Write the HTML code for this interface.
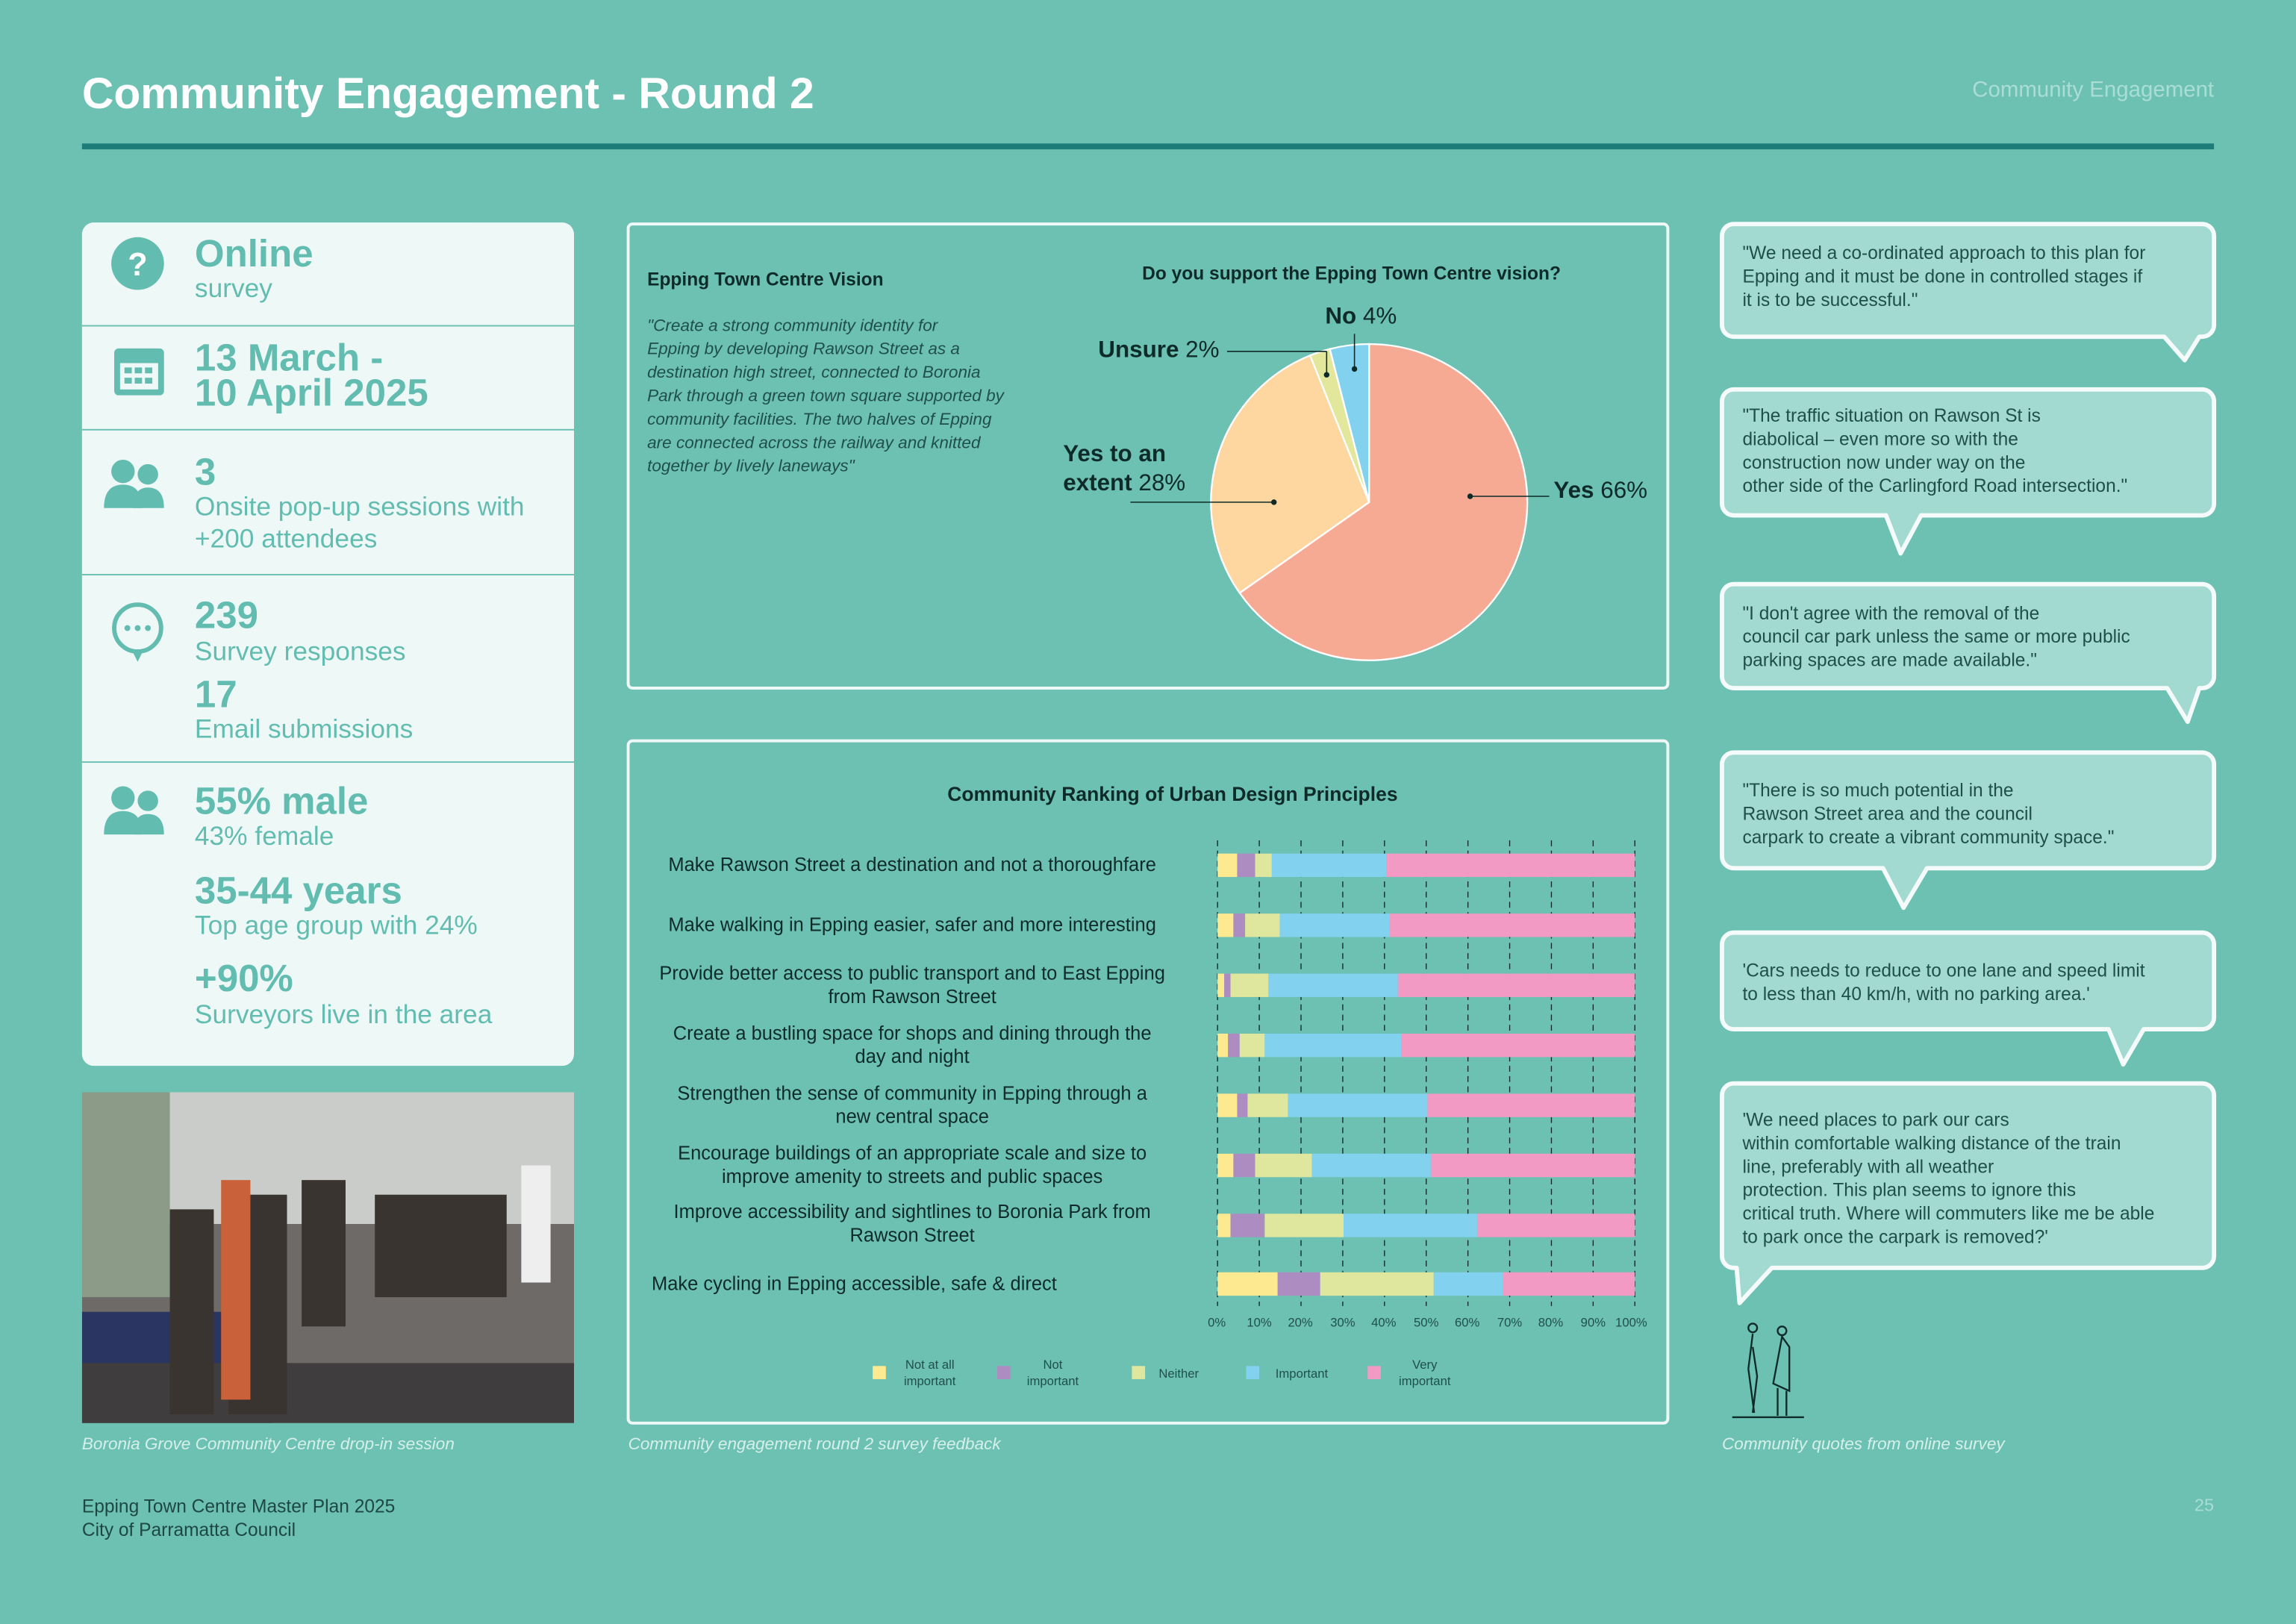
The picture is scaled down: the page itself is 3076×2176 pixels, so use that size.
<!DOCTYPE html>
<html><head><meta charset="utf-8"><style>
html,body{margin:0;padding:0;width:3076px;height:2175px;overflow:hidden;background:#6dc1b3;}
#s{position:absolute;left:0;top:0;width:1568px;height:1109px;transform:scale(1.96173);transform-origin:0 0;font-family:"Liberation Sans",sans-serif;}
.a{position:absolute;}
.card{background:#eef8f7;border-radius:8px;}
.big{color:#62bdb0;font-weight:bold;font-size:26px;line-height:24px;}
.sub{color:#62bdb0;font-size:18px;line-height:22px;}
.hr{position:absolute;left:56px;width:336px;height:1px;background:#6dc1b3;}
.box{border:2px solid #eef8f7;border-radius:4px;}
.cap{color:#d6efea;font-style:italic;font-size:11.5px;}
.q{color:#1f4f4b;font-size:12.5px;line-height:16px;white-space:nowrap;}
.lab{color:#0f2b29;font-size:13px;line-height:16px;text-align:center;white-space:nowrap;}
</style></head><body><div id="s">
<div class="a" style="left:56px;top:48px;color:#fff;font-weight:bold;font-size:30px;">Community Engagement - Round 2</div>
<div class="a" style="right:56px;top:53px;color:#a9ddd5;font-size:15px;">Community Engagement</div>
<div class="a" style="left:56px;top:98px;width:1456px;height:4px;background:#1d7c78;"></div>

<div class="a card" style="left:56px;top:152px;width:336px;height:576px;"></div>
<div class="hr" style="top:222px"></div><div class="hr" style="top:293px"></div><div class="hr" style="top:392px"></div><div class="hr" style="top:520px"></div>
<svg class="a" style="left:56px;top:152px" width="336" height="576" viewBox="0 0 336 576">
<circle cx="38" cy="28" r="18" fill="#62bdb0"/><text x="38" y="36" font-size="22" font-weight="bold" fill="#fff" text-anchor="middle" font-family="Liberation Sans">?</text>
<rect x="22" y="86" width="34" height="32" rx="3" fill="#62bdb0"/><rect x="26" y="96" width="26" height="18" fill="#eef8f7"/>
<g fill="#62bdb0"><rect x="29" y="99" width="5" height="4"/><rect x="36" y="99" width="5" height="4"/><rect x="43" y="99" width="5" height="4"/><rect x="29" y="106" width="5" height="4"/><rect x="36" y="106" width="5" height="4"/><rect x="43" y="106" width="5" height="4"/></g>
<g fill="#62bdb0"><circle cx="28" cy="170" r="8"/><circle cx="45" cy="172" r="7"/><path d="M15 195 q0-16 13-16 q13 0 13 16z"/><path d="M35 195 q0-14 10-14 q11 0 11 14z"/>
<circle cx="28" cy="393" r="8"/><circle cx="45" cy="395" r="7"/><path d="M15 418 q0-16 13-16 q13 0 13 16z"/><path d="M35 418 q0-14 10-14 q11 0 11 14z"/></g>
<circle cx="38" cy="277" r="16" fill="none" stroke="#62bdb0" stroke-width="3"/><path d="M34 292 l4 8 l4-8" fill="#62bdb0"/>
<circle cx="31" cy="277" r="2" fill="#62bdb0"/><circle cx="38" cy="277" r="2" fill="#62bdb0"/><circle cx="45" cy="277" r="2" fill="#62bdb0"/>
</svg>
<div class="a big" style="left:133px;top:161px">Online</div><div class="a sub" style="left:133px;top:186px">survey</div>
<div class="a big" style="left:133px;top:232px">13 March -<br>10 April 2025</div>
<div class="a big" style="left:133px;top:310px">3</div><div class="a sub" style="left:133px;top:335px">Onsite pop-up sessions with<br>+200 attendees</div>
<div class="a big" style="left:133px;top:408px">239</div><div class="a sub" style="left:133px;top:434px">Survey responses</div>
<div class="a big" style="left:133px;top:462px">17</div><div class="a sub" style="left:133px;top:487px">Email submissions</div>
<div class="a big" style="left:133px;top:535px">55% male</div><div class="a sub" style="left:133px;top:560px">43% female</div>
<div class="a big" style="left:133px;top:596px">35-44 years</div><div class="a sub" style="left:133px;top:621px">Top age group with 24%</div>
<div class="a big" style="left:133px;top:656px">+90%</div><div class="a sub" style="left:133px;top:682px">Surveyors live in the area</div>

<svg class="a" style="left:56px;top:746px" width="336" height="226"><rect width="336" height="226" fill="#6e6a68"/><rect width="336" height="90" fill="#c9ccc9"/><rect y="0" width="60" height="140" fill="#8c9a88"/><rect x="0" y="150" width="130" height="76" fill="#2b3561"/><rect x="0" y="185" width="336" height="41" fill="#3f3d3d"/><g fill="#3a3431"><rect x="60" y="80" width="30" height="140"/><rect x="100" y="70" width="40" height="150"/><rect x="150" y="60" width="30" height="100"/><rect x="200" y="70" width="90" height="70"/></g><rect x="95" y="60" width="20" height="150" fill="#c9623a"/><rect x="300" y="50" width="20" height="80" fill="#eee"/></svg>
<div class="a cap" style="left:56px;top:981px">Boronia Grove Community Centre drop-in session</div>
<div class="a cap" style="left:429px;top:981px">Community engagement round 2  survey feedback</div>
<div class="a cap" style="left:1176px;top:981px">Community quotes from online survey</div>
<div class="a" style="left:56px;top:1021px;color:#1e4744;font-size:12.5px;line-height:16px">Epping Town Centre Master Plan 2025<br>City of Parramatta Council</div>
<div class="a" style="right:56px;top:1021px;color:#a9ddd5;font-size:12px">25</div>

<div class="a box" style="left:428px;top:152px;width:708px;height:315px"></div>
<div class="a" style="left:442px;top:184px;color:#0f2b29;font-weight:bold;font-size:12.5px">Epping Town Centre Vision</div>
<div class="a" style="left:442px;top:215px;color:#1f4f4b;font-style:italic;font-size:11.5px;line-height:16px;white-space:nowrap">"Create a strong community identity for<br>Epping by developing Rawson Street as a<br>destination high street, connected to Boronia<br>Park through a green town square supported by<br>community facilities.  The two halves of Epping<br>are connected across the railway and knitted<br>together by lively laneways"</div>
<div class="a" style="left:780px;top:180px;color:#0f2b29;font-weight:bold;font-size:12.5px">Do you support the Epping Town Centre vision?</div>
<svg class="a" style="left:0;top:0" width="1568" height="500">
<g stroke="#fff" stroke-width="1.2">
<path d="M935 343 L935 235 A108 108 0 1 1 846.6 405.0 Z" fill="#f7aa93"/>
<path d="M935 343 L846.6 405.0 A108 108 0 0 1 894.7 242.8 Z" fill="#fdd6a0"/>
<path d="M935 343 L894.7 242.8 A108 108 0 0 1 908.2 238.4 Z" fill="#e2e79b"/>
<path d="M935 343 L908.2 238.4 A108 108 0 0 1 935 235 Z" fill="#81d1ef"/>
</g>
<g stroke="#0f2b29" stroke-width="0.8" fill="#0f2b29">
<line x1="1004" y1="339" x2="1058" y2="339"/><circle cx="1004" cy="339" r="1.5"/>
<line x1="870" y1="343" x2="772" y2="343"/><circle cx="870" cy="343" r="1.5"/>
<line x1="838" y1="240" x2="906" y2="240"/><line x1="906" y1="240" x2="906" y2="256"/><circle cx="906" cy="256" r="1.5"/>
<line x1="925" y1="228" x2="925" y2="252"/><circle cx="925" cy="252" r="1.5"/>
</g></svg>
<div class="a" style="left:905px;top:208px;color:#0f2b29;font-size:16px"><b>No</b> 4%</div>
<div class="a" style="left:750px;top:231px;color:#0f2b29;font-size:16px"><b>Unsure</b> 2%</div>
<div class="a" style="left:726px;top:301px;color:#0f2b29;font-size:16px;line-height:20px"><b>Yes to an<br>extent</b> 28%</div>
<div class="a" style="left:1061px;top:327px;color:#0f2b29;font-size:16px"><b>Yes</b> 66%</div>

<div class="a box" style="left:428px;top:505px;width:708px;height:464px"></div>
<div class="a" style="left:647px;top:535px;color:#0f2b29;font-weight:bold;font-size:13.5px">Community Ranking of Urban Design Principles</div>
<div class="a lab" style="left:440px;top:583px;width:366px">Make Rawson Street a destination and not a thoroughfare</div>
<div class="a lab" style="left:440px;top:624px;width:366px">Make walking in Epping easier, safer and more interesting</div>
<div class="a lab" style="left:440px;top:657px;width:366px">Provide better access to public transport and to East Epping<br>from Rawson Street</div>
<div class="a lab" style="left:440px;top:698px;width:366px">Create a bustling space for shops and dining through the<br>day and night</div>
<div class="a lab" style="left:440px;top:739px;width:366px">Strengthen the sense of community in Epping through a<br>new central space</div>
<div class="a lab" style="left:440px;top:780px;width:366px">Encourage buildings of an appropriate scale and size to<br>improve amenity to streets and public spaces</div>
<div class="a lab" style="left:440px;top:820px;width:366px">Improve accessibility and sightlines to Boronia Park from<br>Rawson Street</div>
<div class="a lab" style="left:445px;top:869px;text-align:left">Make cycling in Epping accessible, safe &amp; direct</div>
<svg class="a" style="left:0;top:0" width="1568" height="980">
<g stroke="#0f2b29" stroke-width="0.7" stroke-dasharray="4,3">
<line x1="831.5" y1="574" x2="831.5" y2="892"/><line x1="860" y1="574" x2="860" y2="892"/><line x1="888.5" y1="574" x2="888.5" y2="892"/><line x1="917" y1="574" x2="917" y2="892"/><line x1="945.5" y1="574" x2="945.5" y2="892"/><line x1="974" y1="574" x2="974" y2="892"/><line x1="1002.5" y1="574" x2="1002.5" y2="892"/><line x1="1031" y1="574" x2="1031" y2="892"/><line x1="1059.5" y1="574" x2="1059.5" y2="892"/><line x1="1088" y1="574" x2="1088" y2="892"/><line x1="1116.5" y1="574" x2="1116.5" y2="892"/>
</g>
<g font-size="8.5" fill="#1f4f4b" text-anchor="middle" font-family="Liberation Sans">
<text x="831" y="906">0%</text><text x="860" y="906">10%</text><text x="888" y="906">20%</text><text x="917" y="906">30%</text><text x="945" y="906">40%</text><text x="974" y="906">50%</text><text x="1002" y="906">60%</text><text x="1031" y="906">70%</text><text x="1059" y="906">80%</text><text x="1088" y="906">90%</text><text x="1114" y="906">100%</text>
</g>
<g font-size="8.5" fill="#1f4f4b" text-anchor="middle" font-family="Liberation Sans">
<rect x="596" y="933" width="9" height="9" fill="#fde98f"/><text x="635" y="935">Not at all</text><text x="635" y="946">important</text>
<rect x="681" y="933" width="9" height="9" fill="#ad8cc2"/><text x="719" y="935">Not</text><text x="719" y="946">important</text>
<rect x="773" y="933" width="9" height="9" fill="#dfe69d"/><text x="805" y="941">Neither</text>
<rect x="851" y="933" width="9" height="9" fill="#81d1ef"/><text x="889" y="941">Important</text>
<rect x="934" y="933" width="9" height="9" fill="#f29ac3"/><text x="973" y="935">Very</text><text x="973" y="946">important</text>
</g>
<g transform="translate(831.5,0) scale(2.85,1)">
<g transform="translate(0,583)"><rect width="4.7" height="16" fill="#fde98f"/><rect x="4.7" width="4.3" height="16" fill="#ad8cc2"/><rect x="9" width="4" height="16" fill="#dfe69d"/><rect x="13" width="27.4" height="16" fill="#81d1ef"/><rect x="40.4" width="59.6" height="16" fill="#f29ac3"/></g>
<g transform="translate(0,624)"><rect width="3.8" height="16" fill="#fde98f"/><rect x="3.8" width="2.8" height="16" fill="#ad8cc2"/><rect x="6.6" width="8.3" height="16" fill="#dfe69d"/><rect x="14.9" width="26.4" height="16" fill="#81d1ef"/><rect x="41.3" width="58.7" height="16" fill="#f29ac3"/></g>
<g transform="translate(0,665)"><rect width="1.6" height="16" fill="#fde98f"/><rect x="1.6" width="1.5" height="16" fill="#ad8cc2"/><rect x="3.1" width="9.1" height="16" fill="#dfe69d"/><rect x="12.2" width="31" height="16" fill="#81d1ef"/><rect x="43.2" width="56.8" height="16" fill="#f29ac3"/></g>
<g transform="translate(0,706)"><rect width="2.5" height="16" fill="#fde98f"/><rect x="2.5" width="2.8" height="16" fill="#ad8cc2"/><rect x="5.3" width="6" height="16" fill="#dfe69d"/><rect x="11.3" width="32.8" height="16" fill="#81d1ef"/><rect x="44.1" width="55.9" height="16" fill="#f29ac3"/></g>
<g transform="translate(0,747)"><rect width="4.7" height="16" fill="#fde98f"/><rect x="4.7" width="2.5" height="16" fill="#ad8cc2"/><rect x="7.2" width="9.7" height="16" fill="#dfe69d"/><rect x="16.9" width="33.4" height="16" fill="#81d1ef"/><rect x="50.3" width="49.7" height="16" fill="#f29ac3"/></g>
<g transform="translate(0,788)"><rect width="3.8" height="16" fill="#fde98f"/><rect x="3.8" width="5.2" height="16" fill="#ad8cc2"/><rect x="9" width="13.6" height="16" fill="#dfe69d"/><rect x="22.6" width="28.5" height="16" fill="#81d1ef"/><rect x="51.1" width="48.9" height="16" fill="#f29ac3"/></g>
<g transform="translate(0,829)"><rect width="3.1" height="16" fill="#fde98f"/><rect x="3.1" width="8.2" height="16" fill="#ad8cc2"/><rect x="11.3" width="18.9" height="16" fill="#dfe69d"/><rect x="30.2" width="32" height="16" fill="#81d1ef"/><rect x="62.2" width="37.8" height="16" fill="#f29ac3"/></g>
<g transform="translate(0,869)"><rect width="14.4" height="16" fill="#fde98f"/><rect x="14.4" width="10.2" height="16" fill="#ad8cc2"/><rect x="24.6" width="27.2" height="16" fill="#dfe69d"/><rect x="51.8" width="16.5" height="16" fill="#81d1ef"/><rect x="68.3" width="31.7" height="16" fill="#f29ac3"/></g>
</g>
</svg>

<svg class="a" style="left:0;top:0" width="1568" height="1000">
<g fill="#a2d9d0" stroke="#f4fbfa" stroke-width="3" stroke-linejoin="round">
<path d="M1184 153 H1504 a8 8 0 0 1 8 8 V222 a8 8 0 0 1-8 8 H1502 L1492 246 L1478 230 H1184 a8 8 0 0 1-8-8 V161 a8 8 0 0 1 8-8Z"/>
<path d="M1184 266 H1504 a8 8 0 0 1 8 8 V344 a8 8 0 0 1-8 8 H1312 L1298 378 L1288 352 H1184 a8 8 0 0 1-8-8 V274 a8 8 0 0 1 8-8Z"/>
<path d="M1184 399 H1504 a8 8 0 0 1 8 8 V462 a8 8 0 0 1-8 8 H1502 L1494 493 L1480 470 H1184 a8 8 0 0 1-8-8 V407 a8 8 0 0 1 8-8Z"/>
<path d="M1184 514 H1504 a8 8 0 0 1 8 8 V585 a8 8 0 0 1-8 8 H1316 L1300 620 L1286 593 H1184 a8 8 0 0 1-8-8 V522 a8 8 0 0 1 8-8Z"/>
<path d="M1184 637 H1504 a8 8 0 0 1 8 8 V695 a8 8 0 0 1-8 8 H1464 L1450 727 L1440 703 H1184 a8 8 0 0 1-8-8 V645 a8 8 0 0 1 8-8Z"/>
<path d="M1184 740 H1504 a8 8 0 0 1 8 8 V858 a8 8 0 0 1-8 8 H1210 L1188 890 L1186 866 H1184 a8 8 0 0 1-8-8 V748 a8 8 0 0 1 8-8Z"/>
</g>
<g stroke="#0f2b29" stroke-width="1.2" fill="none"><circle cx="1197" cy="907" r="3"/><path d="M1197 911 L1194 935 L1198 965 M1197 920 L1200 940 L1197 965"/><circle cx="1217" cy="909" r="3"/><path d="M1217 913 L1211 945 L1222 950 L1222 920 Z M1214 948 L1214 967 M1220 950 L1220 967"/><line x1="1183" y1="968" x2="1232" y2="968"/></g>
</svg>
<div class="a q" style="left:1190px;top:165px">"We need a co-ordinated approach to this plan for<br>Epping and it must be done in controlled stages if<br>it is to be successful."</div>
<div class="a q" style="left:1190px;top:276px">"The traffic situation on Rawson St is<br>diabolical – even more so with the<br>construction now under way on the<br>other side of the Carlingford Road intersection."</div>
<div class="a q" style="left:1190px;top:411px">"I don't agree with the removal of the<br>council car park unless the same or more public<br>parking spaces are made available."</div>
<div class="a q" style="left:1190px;top:532px">"There is so much potential in the<br>Rawson Street area and the council<br>carpark to create a vibrant community space."</div>
<div class="a q" style="left:1190px;top:655px">'Cars needs to reduce to one lane and speed limit<br>to less than 40 km/h, with no parking area.'</div>
<div class="a q" style="left:1190px;top:757px">'We need places to park our cars<br>within comfortable walking distance of the train<br>line, preferably with all weather<br>protection. This plan seems to ignore this<br>critical truth. Where will commuters like me be able<br>to park once the carpark is removed?'</div>
</div></body></html>
